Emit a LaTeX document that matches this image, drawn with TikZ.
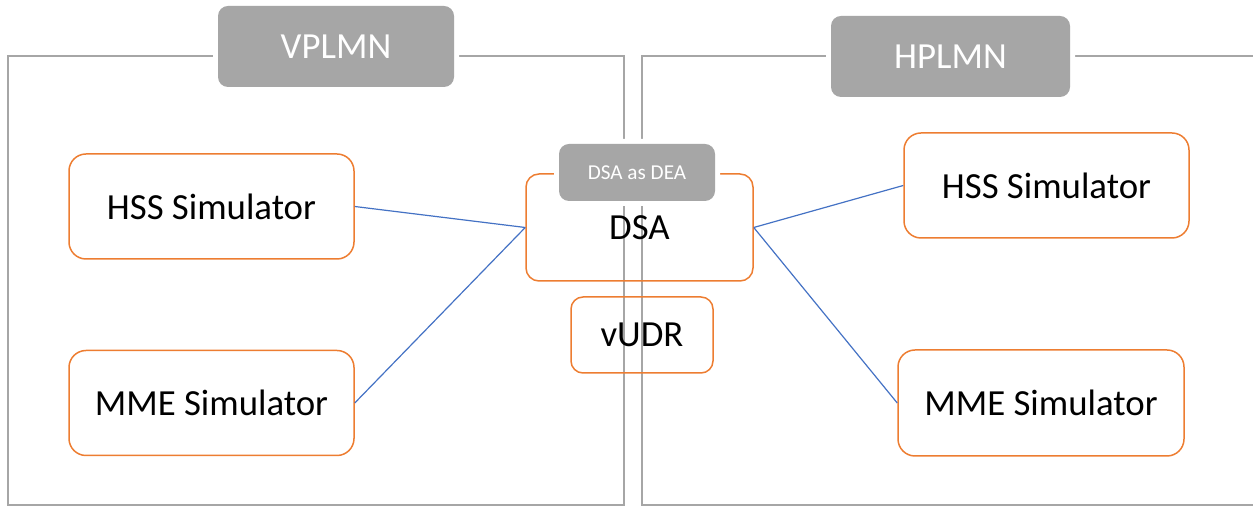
\documentclass[tikz,border=0pt]{standalone}
\usepackage{fontspec}
\setmainfont{Carlito}
\usetikzlibrary{positioning}
\definecolor{boxorange}{HTML}{ED7D31}
\definecolor{linkblue}{HTML}{4472C4}
\definecolor{framegray}{HTML}{A6A6A6}
\tikzstyle{block} = [draw=boxorange, line width=0.75pt, rectangle, rounded corners=8.5pt, minimum width=142.5pt, minimum height=52.5pt, inner sep=0pt, font=\fontsize{18.4}{21}\selectfont]
\tikzstyle{tag} = [fill=framegray, text=white, rectangle, rounded corners=5pt, inner sep=0pt, minimum width=118pt, minimum height=40.5pt, font=\fontsize{18.4}{21}\selectfont, preaction={draw=white, line width=5pt}]
\tikzstyle{frame} = [draw=framegray, line width=1.3pt]
\tikzstyle{link} = [draw=linkblue, line width=0.6pt]

\begin{document}
\begin{tikzpicture}[x=0.5pt, y=-0.5pt]
        \useasboundingbox (0,0) rectangle (1253,506);

        % network frames
        \draw [frame] (8,56) rectangle (624,505);
        \draw [frame] (1253,56) -| (642,505) -- (1253,505);

        % visited side
        \node [block] (hssv) at (211.5,206.5) {HSS Simulator};
        \node [block, below of=hssv, node distance=98.25pt] (mmev) {MME Simulator};

        % middle
        \node [block, minimum width=113.5pt, minimum height=53.5pt, rounded corners=6.5pt] (dsa) at (639.5,227.5) {DSA};
        \node [block, minimum width=71pt, minimum height=38pt, rounded corners=6pt] (vudr) at (642,335) {vUDR};

        % home side
        \node [block] (hssh) at (1046.5,185.5) {HSS Simulator};
        \node [block, minimum width=143pt, minimum height=53pt] (mmeh) at (1041,403) {MME Simulator};

        % labels
        \node [tag] (vplmn) at (336,46.5) {VPLMN};
        \node [tag, minimum width=119.5pt] (hplmn) at (950.5,56.5) {HPLMN};
        \node [tag, minimum width=78pt, minimum height=28.5pt, font=\fontsize{10.6}{12}\selectfont] (dea) at (637,172.5) {DSA as DEA};

        \draw [link] (hssv.east) -- (dsa.west);
        \draw [link] (mmev.east) -- (dsa.west);
        \draw [link] (dsa.east) -- (hssh.west);
        \draw [link] (dsa.east) -- (mmeh.west);
\end{tikzpicture}
\end{document}
